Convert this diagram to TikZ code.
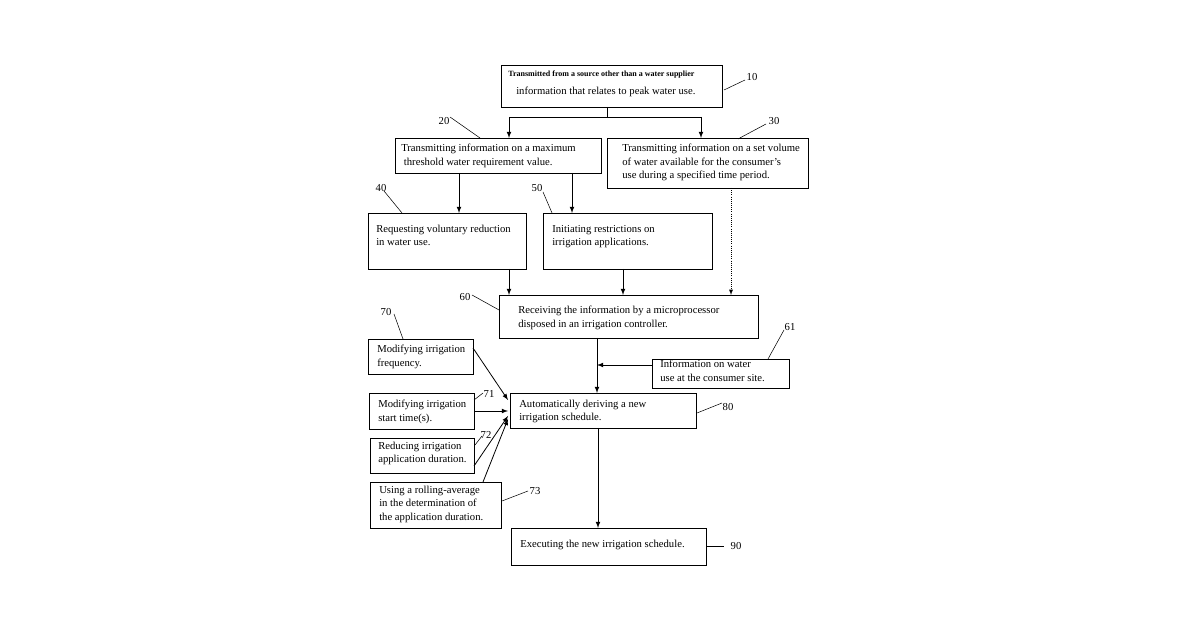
\documentclass[tikz,border=0pt]{standalone}
\usepackage{fontspec}
\setmainfont{Liberation Serif}
\begin{document}
\begin{tikzpicture}[x=0.75pt, y=-0.75pt]
  \tikzstyle{box}=[draw, line width=0.6pt, inner sep=0pt, anchor=north west]
  \tikzstyle{txt}=[anchor=north west, align=left, inner sep=0pt, font=\fontsize{8}{10}\selectfont]
  \tikzstyle{num}=[inner sep=1pt, font=\fontsize{8}{10}\selectfont]
  \tikzstyle{edge}=[-latex, line width=0.6pt]
  \tikzstyle{lead}=[line width=0.4pt]

  \useasboundingbox (0,0) rectangle (1200,630);

  % boxes
  \draw[box] (501,65)  rectangle (722,107) coordinate (b10e);
  \draw[box] (395,138) rectangle (601,173);
  \draw[box] (607,138) rectangle (808,188);
  \draw[box] (368,213) rectangle (526,269);
  \draw[box] (543,213) rectangle (712,269);
  \draw[box] (499,295) rectangle (758,338);
  \draw[box] (368,339) rectangle (473,374);
  \draw[box] (652,359) rectangle (789,388);
  \draw[box] (510,393) rectangle (696,428);
  \draw[box] (369,393) rectangle (474,429);
  \draw[box] (370,438) rectangle (474,473);
  \draw[box] (370,482) rectangle (501,528);
  \draw[box] (511,528) rectangle (706,565);

  % texts
  \node[txt, font=\fontsize{6}{8}\bfseries\selectfont] (t10a) at (508,71) {Transmitted from a source other than a water supplier};
  \node[txt] (t10b) at (516,87) {information that relates to peak water use.};
  \node[txt] (t20) at (401,144) {Transmitting information on a maximum\\\ threshold water requirement value.};
  \node[txt] (t30) at (622,144) {Transmitting information on a set volume\\of water available for the consumer's\\use during a specified time period.};
  \node[txt] (t40) at (376,225) {Requesting voluntary reduction\\in water use.};
  \node[txt] (t50) at (552,225) {Initiating restrictions on\\irrigation applications.};
  \node[txt] (t60) at (518,306) {Receiving the information by a microprocessor\\disposed in an irrigation controller.};
  \node[txt] (t70) at (377,345) {Modifying irrigation\\frequency.};
  \node[txt] (t61) at (660,360) {Information on water\\use at the consumer site.};
  \node[txt] (t80) at (519,400) {Automatically deriving a new\\irrigation schedule.};
  \node[txt] (t71) at (378,400) {Modifying irrigation\\start time(s).};
  \node[txt] (t72) at (378,442) {Reducing irrigation\\application duration.};
  \node[txt] (t73) at (379,486) {Using a rolling-average\\in the determination of\\the application duration.};
  \node[txt] (t90) at (520,540) {Executing the new irrigation schedule.};

  % connectors
  \draw[line width=0.6pt] (607,107) -- (607,117);
  \draw[edge] (509,117) -- (509,138);
  \draw[edge] (701,117) -- (701,138);
  \draw[line width=0.6pt] (509,117) -- (701,117);
  \draw[edge] (459,173) -- (459,213);
  \draw[edge] (572,173) -- (572,213);
  \draw[edge] (509,269) -- (509,295);
  \draw[edge] (623,269) -- (623,295);
  \draw[edge, densely dotted, line width=0.4pt] (731,188) -- (731,295);
  \draw[edge] (597,338) -- (597,393);
  \draw[edge] (652,365) -- (597,365);
  \draw[edge] (473,348) -- (508,400);
  \draw[edge] (474,411) -- (508,411);
  \draw[edge] (474,466) -- (508,416);
  \draw[edge] (483,482) -- (508,419);
  \draw[edge] (598,428) -- (598,528);

  % reference numerals
  \node[num] (n10) at (752,77)  {10};
  \node[num] (n20) at (444,121) {20};
  \node[num] (n30) at (774,121) {30};
  \node[num] (n40) at (381,188) {40};
  \node[num] (n50) at (537,188) {50};
  \node[num] (n60) at (465,297) {60};
  \node[num] (n70) at (386,312) {70};
  \node[num] (n61) at (790,327) {61};
  \node[num] (n80) at (728,407) {80};
  \node[num] (n71) at (489,394) {71};
  \node[num] (n72) at (486,435) {72};
  \node[num] (n73) at (535,491) {73};
  \node[num] (n90) at (736,546) {90};
  \draw[lead] (724,90) -- (745,80);
  \draw[lead] (450,117) -- (480,138);
  \draw[lead] (766,124) -- (738,139);
  \draw[lead] (384,191) -- (402,213);
  \draw[lead] (543,192) -- (552,213);
  \draw[lead] (472,295) -- (499,310);
  \draw[lead] (394,314) -- (403,339);
  \draw[lead] (784,330) -- (768,359);
  \draw[lead] (697,413) -- (722,403);
  \draw[lead] (474,400) -- (483,393);
  \draw[lead] (475,445) -- (482,436);
  \draw[lead] (502,501) -- (528,491);
  \draw[lead] (706,546) -- (724,546);
\end{tikzpicture}
\end{document}
